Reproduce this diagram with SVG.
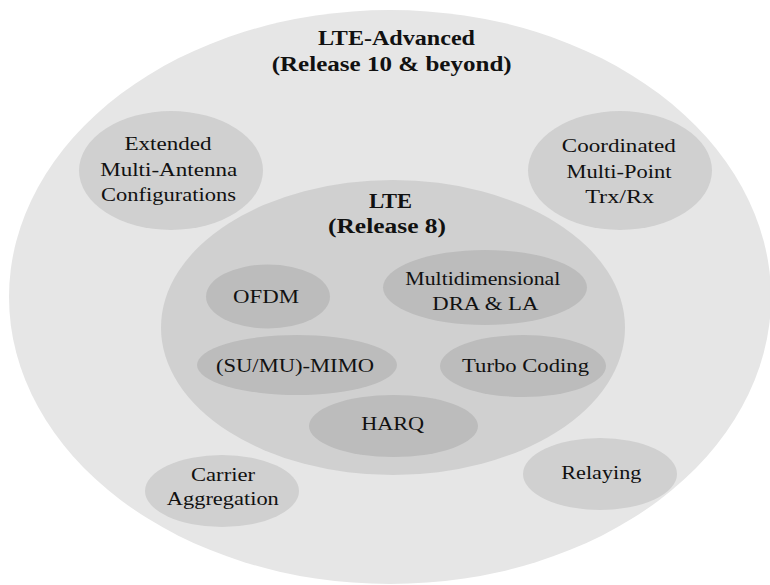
<svg xmlns="http://www.w3.org/2000/svg" width="770" height="585" viewBox="0 0 770 585">
  <style>
    .outer { fill: #e6e6e6; }
    .mid { fill: #d0d0d0; }
    .inner { fill: #bcbcbc; }
    text { font-family: "Liberation Serif", "Times New Roman", serif; fill: #111; text-anchor: middle; font-size: 19px; }
    .title { font-weight: bold; font-size: 20px; }
  </style>
  <rect width="770" height="585" fill="#ffffff"/>

  <!-- LTE-Advanced envelope -->
  <g id="lte-advanced">
    <ellipse class="outer" cx="390" cy="297" rx="381" ry="287"/>
    <text class="title" x="396.5" y="45" textLength="157" lengthAdjust="spacingAndGlyphs">LTE-Advanced</text>
    <text class="title" x="391.7" y="71" textLength="240" lengthAdjust="spacingAndGlyphs">(Release 10 &amp; beyond)</text>
  </g>

  <g id="extended-multi-antenna">
    <ellipse class="mid" cx="171" cy="170.5" rx="92" ry="59.5"/>
    <text x="168" y="149.5" textLength="87" lengthAdjust="spacingAndGlyphs">Extended</text>
    <text x="168.7" y="175.5" textLength="137" lengthAdjust="spacingAndGlyphs">Multi-Antenna</text>
    <text x="168.5" y="201" textLength="135" lengthAdjust="spacingAndGlyphs">Configurations</text>
  </g>

  <g id="coordinated-multi-point">
    <ellipse class="mid" cx="620" cy="170.5" rx="92" ry="59.5"/>
    <text x="618.8" y="152" textLength="114" lengthAdjust="spacingAndGlyphs">Coordinated</text>
    <text x="619" y="178" textLength="105" lengthAdjust="spacingAndGlyphs">Multi-Point</text>
    <text x="619.7" y="203" textLength="69" lengthAdjust="spacingAndGlyphs">Trx/Rx</text>
  </g>

  <g id="carrier-aggregation">
    <ellipse class="mid" cx="222" cy="491" rx="77" ry="36"/>
    <text x="223" y="481" textLength="64" lengthAdjust="spacingAndGlyphs">Carrier</text>
    <text x="222.8" y="505" textLength="112" lengthAdjust="spacingAndGlyphs">Aggregation</text>
  </g>

  <g id="relaying">
    <ellipse class="mid" cx="600" cy="474" rx="77" ry="36"/>
    <text x="601.3" y="479" textLength="80" lengthAdjust="spacingAndGlyphs">Relaying</text>
  </g>

  <!-- LTE Release 8 core -->
  <g id="lte">
    <ellipse class="mid" cx="393" cy="327.5" rx="232" ry="147.5"/>
    <text class="title" x="390.5" y="208" textLength="43" lengthAdjust="spacingAndGlyphs">LTE</text>
    <text class="title" x="387" y="233" textLength="118" lengthAdjust="spacingAndGlyphs">(Release 8)</text>
  </g>

  <g id="ofdm">
    <ellipse class="inner" cx="268" cy="296.5" rx="62" ry="32"/>
    <text x="266" y="303" textLength="66" lengthAdjust="spacingAndGlyphs">OFDM</text>
  </g>

  <g id="multidimensional-dra-la">
    <ellipse class="inner" cx="485" cy="287.5" rx="102" ry="37.5"/>
    <text x="482.8" y="285" textLength="155" lengthAdjust="spacingAndGlyphs">Multidimensional</text>
    <text x="485.3" y="310" textLength="106" lengthAdjust="spacingAndGlyphs">DRA &amp; LA</text>
  </g>

  <g id="su-mu-mimo">
    <ellipse class="inner" cx="297" cy="365" rx="100" ry="30"/>
    <text x="295" y="371.5" textLength="158" lengthAdjust="spacingAndGlyphs">(SU/MU)-MIMO</text>
  </g>

  <g id="turbo-coding">
    <ellipse class="inner" cx="523" cy="366" rx="83" ry="31"/>
    <text x="525.5" y="371.5" textLength="127" lengthAdjust="spacingAndGlyphs">Turbo Coding</text>
  </g>

  <g id="harq">
    <ellipse class="inner" cx="393.5" cy="426" rx="84.5" ry="31"/>
    <text x="392.7" y="430" textLength="63" lengthAdjust="spacingAndGlyphs">HARQ</text>
  </g>
</svg>
